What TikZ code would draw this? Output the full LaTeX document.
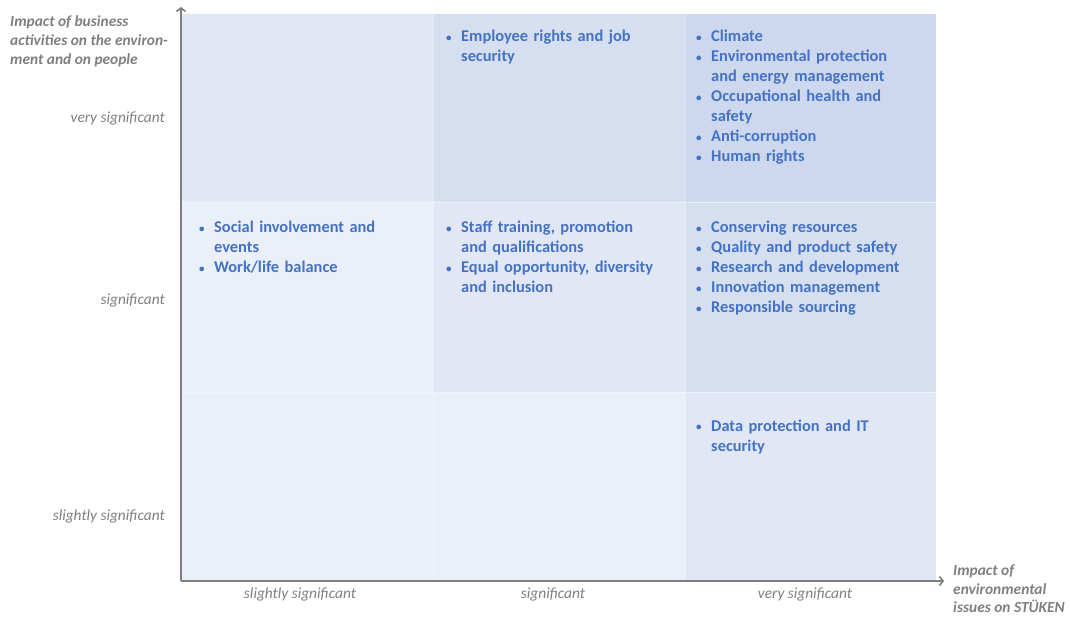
\documentclass[tikz,border=0pt]{standalone}
\usepackage{fontspec}
\setmainfont{Carlito}
\usepackage{xcolor}
\usepackage{tikz}
\usetikzlibrary{arrows.meta}

\definecolor{cellA}{HTML}{EBEFF8}
\definecolor{cellB}{HTML}{E1E7F5}
\definecolor{cellC}{HTML}{D6DFF0}
\definecolor{cellD}{HTML}{CDD8EE}
\definecolor{axisgray}{HTML}{7F7F7F}
\definecolor{itemblue}{HTML}{4472C4}

\newcommand{\issue}[1]{\hangindent=15pt\hangafter=1\noindent
  \makebox[15pt][l]{\raisebox{0.5pt}{\fontsize{11}{11}\selectfont\textbullet}}#1\par}

\begin{document}
\begin{tikzpicture}[x=1pt, y=-1pt,
    axis/.style={draw=axisgray, line width=1.8pt, -{Straight Barb[length=3.5pt, width=9pt, line width=1.6pt]}},
    ticklabel/.style={inner sep=0, text=axisgray, font=\fontsize{15.4}{19}\selectfont\itshape},
    axistitle/.style={inner sep=0, align=left, text=axisgray, font=\fontsize{15.4}{19}\selectfont\bfseries\itshape},
    issues/.style={inner sep=0, anchor=base west, text width=240pt, align=left, text=itemblue,
      font=\fontsize{16.4}{20}\selectfont\bfseries}]
    \useasboundingbox (0, 0) rectangle (1070, 617);

    % matrix cells
    \foreach \xa/\xb/\ya/\yb/\shade in {
        181/433/14/203/cellB, 433/685/14/203/cellC, 685/936/14/203/cellD,
        181/433/203/392/cellA, 433/685/203/392/cellB, 685/936/203/392/cellC,
        181/433/392/581/cellA, 433/685/392/581/cellA, 685/936/392/581/cellB}
        \fill[\shade, draw=white, draw opacity=0.35, line width=1pt] (\xa, \ya) rectangle (\xb, \yb);

    % axes
    \coordinate (origin) at (181, 581);
    \coordinate (ytop) at (181, 7);
    \coordinate (xend) at (944, 581);
    \draw[axis] (origin) -- (ytop);
    \draw[axis] (origin) -- (xend);

    \node[axistitle, anchor=base west] at (10, 65) (ytitle)
        {Impact of business\\activities on the environ-\\ment and on people};
    \node[axistitle, anchor=base west, font=\fontsize{15.4}{18.3}\selectfont\bfseries\itshape]
        at (953, 612.5) (xtitle) {Impact of\\environmental\\issues on STÜKEN};

    \node[ticklabel, anchor=base east] at (165, 123) (yhigh) {very significant};
    \node[ticklabel, anchor=base east] at (165, 305) (ymid) {significant};
    \node[ticklabel, anchor=base east] at (165, 520) (ylow) {slightly significant};
    \node[ticklabel, anchor=base] at (300, 598.5) (xlow) {slightly significant};
    \node[ticklabel, anchor=base] at (553, 598.5) (xmid) {significant};
    \node[ticklabel, anchor=base] at (805, 598.5) (xhigh) {very significant};

    % issues per cell
    \node[issues] at (446, 42) (c23) {\issue{Employee rights and job\newline security}};
    \node[issues] at (696, 42) (c33) {\issue{Climate}
        \issue{Environmental protection\newline and energy management}
        \issue{Occupational health and\newline safety}
        \issue{Anti-corruption}
        \issue{Human rights}};
    \node[issues] at (199, 233) (c12) {\issue{Social involvement and\newline events}
        \issue{Work/life balance}};
    \node[issues] at (446, 233) (c22) {\issue{Staff training, promotion\newline and qualifications}
        \issue{Equal opportunity, diversity\newline and inclusion}};
    \node[issues] at (696, 233) (c32) {\issue{Conserving resources}
        \issue{Quality and product safety}
        \issue{Research and development}
        \issue{Innovation management}
        \issue{Responsible sourcing}};
    \node[issues] at (696, 431) (c31) {\issue{Data protection and IT\newline security}};
\end{tikzpicture}
\end{document}
